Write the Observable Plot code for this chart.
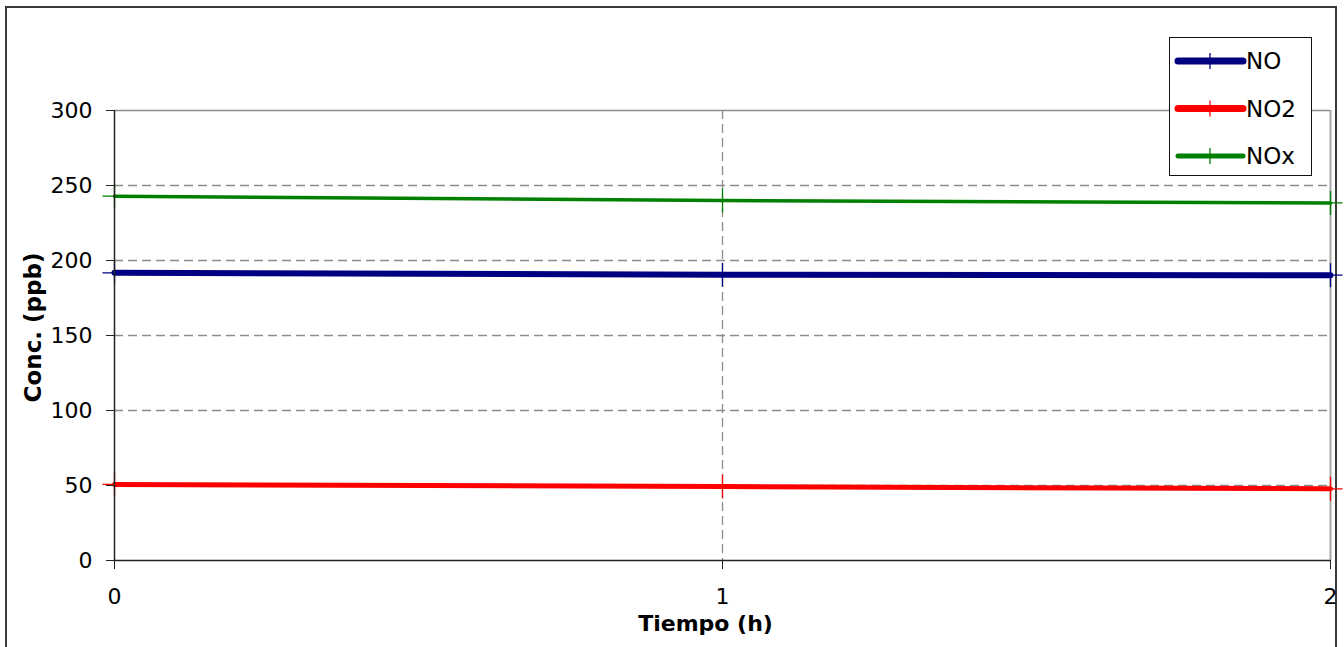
<!DOCTYPE html>
<html>
<head>
<meta charset="utf-8">
<script src="https://cdn.jsdelivr.net/npm/d3@7"></script>
<script src="https://cdn.jsdelivr.net/npm/@observablehq/plot@0.6"></script>
<style>
  html, body { margin: 0; padding: 0; background: #fff; overflow: hidden; width: 1344px; height: 647px; }
  #wrap { position: relative; width: 1344px; height: 647px; font-family: "DejaVu Sans", sans-serif; }
  #frame { position: absolute; left: 5px; top: 6px; width: 1332px; height: 700px; border: 2px solid #3a3a3a; box-sizing: border-box; }
  #chart { position: absolute; left: 0; top: 0; }
  #legend { position: absolute; left: 1169px; top: 37px; width: 143px; height: 139px; border: 1.5px solid #111; box-sizing: border-box; background: #fff; }
</style>
</head>
<body>
<div id="wrap"><div id="frame"></div><div id="chart"></div><div id="legend"></div></div>
<script>
const times = [0, 1, 2];
const seriesNames = ["NO", "NO2", "NOx"];
const noValues = [191.8, 190.5, 190.2];
const no2Values = [50.7, 49.3, 47.8];
const noxValues = [242.9, 240, 238.4];
const seriesValues = [noValues, no2Values, noxValues];
const seriesColors = ["#000080", "#ff0000", "#008000"];
const seriesWidths = [6, 5, 3.5];
const yTicks = [0, 50, 100, 150, 200, 250, 300];
const yGrid = [50, 100, 150, 200, 250];
const xTicks = [0, 1, 2];
const xGrid = [1];
const xTitle = "Tiempo (h)";
const yTitle = "Conc. (ppb)";

const rows = [];
seriesNames.forEach((name, i) => {
  times.forEach((t, j) => rows.push({series: name, t, v: seriesValues[i][j]}));
});

const thinPlus = {
  draw(ctx, size) {
    const r = Math.sqrt(size / Math.PI);
    ctx.moveTo(-r, 0); ctx.lineTo(r, 0);
    ctx.moveTo(0, -r); ctx.lineTo(0, r);
  }
};

const font = "'DejaVu Sans', sans-serif";
const colorScale = {domain: seriesNames, range: seriesColors};

const marks = [
  Plot.ruleY(yGrid, {stroke: "#8c8c8c", strokeWidth: 1.3, strokeDasharray: "9,5"}),
  Plot.ruleX(xGrid, {stroke: "#8c8c8c", strokeWidth: 1.3, strokeDasharray: "9,5"}),
  Plot.ruleY([300], {stroke: "#8c8c8c", strokeWidth: 1.3}),
  Plot.ruleX([2], {stroke: "#a8a8a8", strokeWidth: 2})
];
seriesNames.forEach((name, i) => {
  marks.push(Plot.line(rows.filter(d => d.series === name), {x: "t", y: "v", stroke: seriesColors[i], strokeWidth: seriesWidths[i]}));
});
marks.push(Plot.dot(rows, {x: "t", y: "v", symbol: thinPlus, r: 12, fill: "none", stroke: "series", strokeWidth: 1.3}));
marks.push(
  Plot.ruleX([0], {stroke: "#222", strokeWidth: 1.5}),
  Plot.ruleY([0], {stroke: "#222", strokeWidth: 1.5}),
  Plot.axisY({ticks: yTicks, tickSize: 8, tickPadding: 14, tickFormat: d => String(d), label: null, fontSize: 22, stroke: "#222", fill: "#000"}),
  Plot.axisX({ticks: xTicks, tickSize: 9, tickPadding: 19, tickFormat: d => String(d), label: null, fontSize: 22, stroke: "#222", fill: "#000"}),
  Plot.text([xTitle], {frameAnchor: "bottom", dx: -17, dy: 70, fontSize: 22, fontWeight: "bold", fill: "#000"}),
  Plot.text([yTitle], {frameAnchor: "left", textAnchor: "middle", dx: -81, dy: -8, rotate: -90, fontSize: 23, fontWeight: "bold", fill: "#000"})
);

const chart = Plot.plot({
  width: 1344,
  height: 647,
  marginLeft: 114,
  marginRight: 14,
  marginTop: 110,
  marginBottom: 87,
  x: {domain: [0, 2]},
  y: {domain: [0, 300]},
  color: colorScale,
  style: {background: "transparent", fontFamily: font, fontSize: "22px", color: "#000"},
  marks
});
document.getElementById("chart").appendChild(chart);

// legend
const lg = d3.select("#legend").append("svg").attr("width", 141).attr("height", 137)
  .style("font-family", font);
const legendWidths = [7, 7, 5];
seriesNames.forEach((name, i) => {
  const y = 23 + i * 47.5;
  lg.append("line").attr("x1", 8).attr("x2", 73).attr("y1", y).attr("y2", y)
    .attr("stroke", seriesColors[i]).attr("stroke-width", legendWidths[i]).attr("stroke-linecap", "round");
  lg.append("line").attr("x1", 40).attr("x2", 40).attr("y1", y - 8).attr("y2", y + 8)
    .attr("stroke", seriesColors[i]).attr("stroke-width", 1.3);
  lg.append("text").attr("x", 76).attr("y", y).attr("dy", "0.36em").attr("font-size", 23).attr("fill", "#000").text(name);
});
</script>
</body>
</html>
